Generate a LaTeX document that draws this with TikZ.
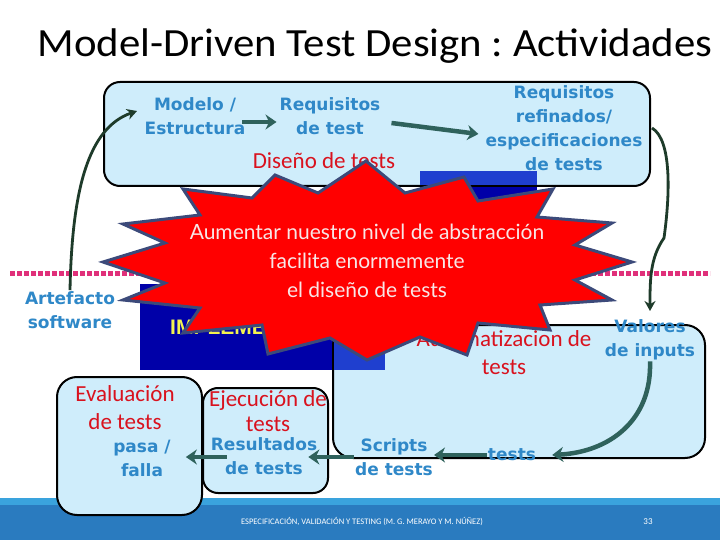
\documentclass[tikz,border=0pt]{standalone}
\usepackage{fontspec}
\setmainfont{Carlito}
\newfontfamily\comic{DejaVu Sans}
\newfontfamily\gill{Lato}
\newfontfamily\arialf{Liberation Sans}
\usetikzlibrary{arrows.meta,calc}
\definecolor{boxblue}{HTML}{CFEDFB}
\definecolor{lblue}{HTML}{2F88C8}
\definecolor{hred}{HTML}{D9121E}
\definecolor{arrteal}{HTML}{2F625C}
\definecolor{dgreen}{HTML}{1E3B2A}
\definecolor{navyb}{HTML}{0000A8}
\definecolor{midblue}{HTML}{1F3FCF}
\definecolor{dotpink}{HTML}{E0307A}
\definecolor{starline}{HTML}{3C4A7A}
\definecolor{startext}{HTML}{F8E6E6}
\definecolor{implyellow}{HTML}{F2F250}
\definecolor{foot}{HTML}{2A7BBF}
\definecolor{footl}{HTML}{3AA3DD}
\frenchspacing
\begin{document}
\begin{tikzpicture}[x=1pt,y=-1pt,
  panel/.style={draw=black, line width=2pt, fill=boxblue, rounded corners=16pt, inner sep=0pt},
  lbl/.style={text=lblue, font=\comic\bfseries\fontsize{17}{24}\selectfont, align=center, inner sep=1pt},
  hd/.style={text=hred, font=\fontsize{23}{28}\selectfont, align=center, inner sep=1pt},
  arr/.style={draw=arrteal, line width=4.5pt, -{Stealth[length=11pt,width=15pt]}},
  curv/.style={draw=dgreen, line width=2.8pt, -{Stealth[length=10pt,width=11pt]}}]
\useasboundingbox (0,0) rectangle (720,540);
\fill[white] (0,0) rectangle (720,540);

% title
\node[font=\fontsize{40}{44}\selectfont, text=black, inner sep=0pt] (title) at (375,46) {\scalebox{1.07}[1]{Model-Driven Test Design : Actividades}};

% footer
\fill[foot] (0,498) rectangle (720,540);
\fill[footl] (0,498) rectangle (720,505);
\node[text=white, font=\fontsize{8.5}{10}\selectfont] (foottext) at (362,522) {ESPECIFICACIÓN, VALIDACIÓN Y TESTING (M. G. MERAYO Y M. NÚÑEZ)};
\node[text=white, font=\fontsize{9}{10}\selectfont] (pagenum) at (648,522) {33};

% dotted separator
\draw[dotpink, line width=5pt, dash pattern=on 4.7pt off 2.3pt] (10,273) -- (710,273);

% dark blue blocks
\fill[navyb] (420,171) rectangle (537,225);
\fill[navyb] (140,284) rectangle (385,370);

% panels
\node[panel, minimum width=546pt, minimum height=104pt] (top) at (377,134) {};
\node[panel, minimum width=372pt, minimum height=133pt, rounded corners=20pt] (autombox) at (519,391.5) {};
\node[panel, minimum width=145pt, minimum height=138pt, rounded corners=20pt] (evalbox) at (129.5,446) {};
\node[panel, minimum width=125pt, minimum height=105pt, rounded corners=15pt] (ejecbox) at (265.5,440.5) {};

% overlaps of blocks and panels
\fill[midblue] (420,171) rectangle (537,185);
\fill[midblue] (334,326) rectangle (385,370);

% texts of the design panel
\node[lbl] (modelo) at (195,116) {Modelo /\\Estructura};
\node[lbl] (reqtest) at (330,116) {Requisitos\\de test};
\node[lbl] (reqref) at (564,128) {Requisitos\\refinados/\\especificaciones\\de tests};
\node[hd] (diseno) at (324,161) {Diseño de tests};

% left and lower texts
\node[lbl] (artef) at (70,310) {Artefacto\\software};
\node[anchor=west, text=implyellow, font=\arialf\bfseries\fontsize{21}{24}\selectfont, inner sep=0pt] (impl) at (170,325) {IMPLEMENTACIÓN};
\node[hd] (autom) at (504,353) {Automatizacion de\\tests};
\node[lbl] (valores) at (650,340) {Valores\\de inputs};
\node[lbl] (tests) at (512,455) {tests};
\node[lbl] (scripts) at (394,457) {Scripts\\de tests};
\node[hd] (eval) at (125,408) {Evaluación\\de tests};
\node[hd, font=\fontsize{23}{25}\selectfont] (ejec) at (268,411) {Ejecución de\\tests};
\node[lbl] (result) at (264,456) {Resultados\\de tests};
\node[lbl] (pasa) at (142,458) {pasa /\\falla};

% connectors
\draw[arr] ($(modelo.east)+(-4,6)$) -- ($(reqtest.west)+(-2,6)$);
\draw[arr] ($(reqtest.east)+(10,7)$) -- ($(reqref.west)+(-6,6)$);
\coordinate (modtip) at (137,111);
\draw[curv] (artef.north) .. controls (72,190) and (88,128) .. (modtip);
\coordinate (valtip) at (650,311);
\draw[curv] (652,128) .. controls (672,140) and (670,195) .. (664,238) .. controls (650,258) and (650,280) .. (valtip);
\draw[arr] (valores.south) .. controls (652,420) and (610,452) .. ($(tests.east)+(15,0)$);
\draw[arr] (tests.west) -- (scripts.east |- tests.west);
\draw[arr] (scripts.west) -- ($(result.east)+(-10,1)$);
\draw[arr] ($(result.west)+(17,1)$) -- ($(pasa.east)+(14,-1)$);

% starburst
\filldraw[fill=red, draw=starline, line width=3pt, line join=miter]
  (366,161) -- (405,193) -- (464,177) -- (478,201) -- (553,189) -- (537,217)
  -- (612,223) -- (575,245) -- (632,262) -- (575,280) -- (612,300) -- (540,305)
  -- (550,330) -- (478,323) -- (467,355) -- (420,337) -- (367,360) -- (330,338)
  -- (268,354) -- (262,325) -- (183,333) -- (200,308) -- (123,300) -- (165,283)
  -- (103,262) -- (165,243) -- (123,224) -- (200,215) -- (183,189) -- (252,198)
  -- (275,175) -- (318,193) -- cycle;
\node[font=\gill\fontsize{21}{29}\selectfont, text=startext, align=center] (burst) at (367,261) {Aumentar nuestro nivel de abstracción\\facilita enormemente\\el diseño de tests};
\end{tikzpicture}
\end{document}
